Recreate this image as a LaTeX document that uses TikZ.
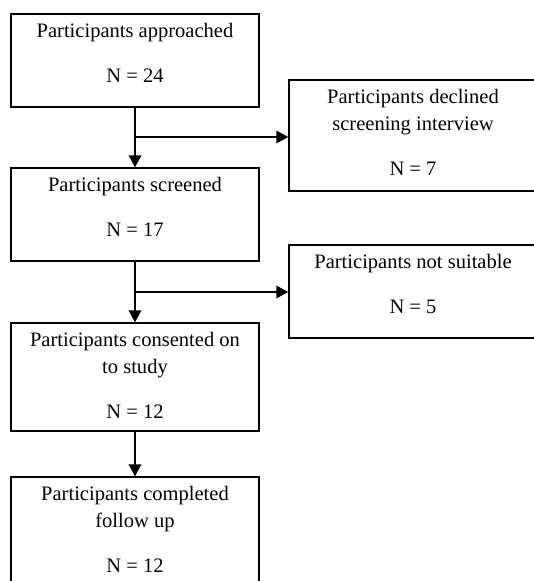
\documentclass[tikz,border=0pt]{standalone}
\usepackage{fontspec}
\setmainfont{Liberation Serif}
\usetikzlibrary{arrows.meta,positioning}
\begin{document}
\begin{tikzpicture}[x=0.75pt,y=-0.75pt,>={Triangle[length=9pt,width=9.5pt]},
	box/.style={draw,line width=1.1pt,minimum width=186pt,inner sep=0pt},
	txt/.style={align=center,anchor=base,inner sep=0pt,font=\fontsize{15.4}{20.25}\selectfont},
	every path/.style={line width=1.1pt}]
	\useasboundingbox (0,0) rectangle (533,581);
	% main column
	\node[box,minimum height=69.75pt] (approached) at (135,60.5) {};
	\node[box,minimum height=69.75pt] (screened) at (135,214.5) {};
	\node[box,minimum height=81pt] (consented) at (135,377) {};
	\node[box,minimum height=81.75pt] (completed) at (135,531.5) {};
	% side boxes
	\node[box,minimum height=83.25pt] (declined) at (413,135.5) {};
	\node[box,minimum height=69.75pt] (unsuitable) at (413,291.5) {};
	% texts (base = last line)
	\node[txt] (approachedtxt) at ([yshift=-51.75pt]approached.north) {Participants approached\\[13.5pt]N = 24};
	\node[txt] (screenedtxt) at ([yshift=-51.75pt]screened.north) {Participants screened\\[13.5pt]N = 17};
	\node[txt] (consentedtxt) at ([yshift=-72pt]consented.north) {Participants consented on\\to study\\[13.5pt]N = 12};
	\node[txt] (completedtxt) at ([yshift=-72pt]completed.north) {Participants completed\\follow up\\[13.5pt]N = 12};
	\node[txt] (declinedtxt) at ([yshift=-72pt]declined.north) {Participants declined\\screening interview\\[13.5pt]N = 7};
	\node[txt] (unsuitabletxt) at ([yshift=-51.75pt]unsuitable.north) {Participants not suitable\\[13.5pt]N = 5};
	% flow
	\draw[->] (approached.south) -- (screened.north);
	\draw[->] (screened.south) -- (consented.north);
	\draw[->] (consented.south) -- (completed.north);
	\coordinate (fork1) at (135,137);
	\coordinate (fork2) at (135,292);
	\draw[->] (fork1) -- (fork1 -| declined.west);
	\draw[->] (fork2) -- (fork2 -| unsuitable.west);
\end{tikzpicture}
\end{document}
